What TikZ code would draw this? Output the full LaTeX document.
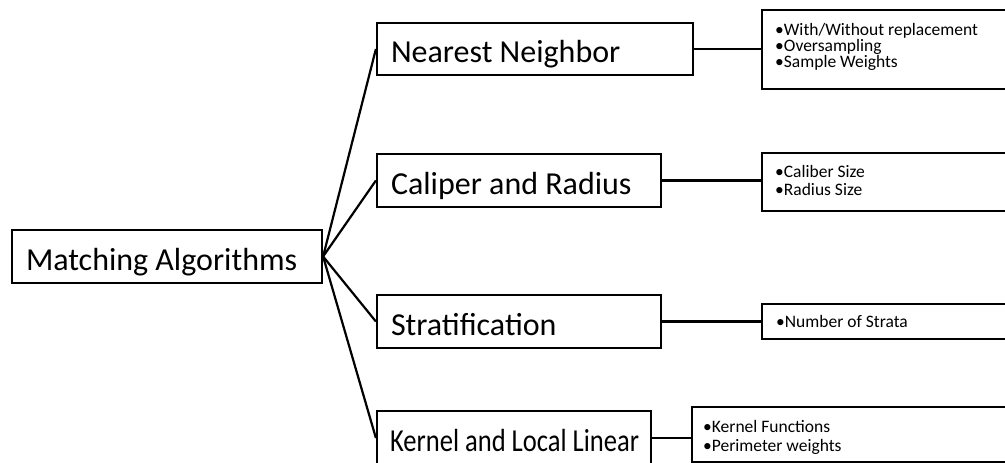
\documentclass[tikz,border=0pt]{standalone}
\usepackage{fontspec}
\usepackage{graphicx}
\setmainfont{Carlito}
\begin{document}
\begin{tikzpicture}[x=1pt,y=-1pt,
  bigbox/.style={draw, line width=2.2pt, inner xsep=14pt, inner ysep=0pt,
    font=\fontsize{32}{38}\selectfont, text height=27pt, text depth=0pt},
  smallbox/.style={draw, line width=2.2pt, inner sep=0pt},
  smalltext/.style={anchor=base west, inner sep=0pt, font=\fontsize{17.5}{18}\selectfont},
  conn/.style={line width=2.2pt},
  hconn/.style={line width=2.6pt}]
\useasboundingbox (0,0) rectangle (1005,463);
\clip (0,0) rectangle (1005,463);
\fill[white] (0,0) rectangle (1005,463);

\node[bigbox, minimum height=53pt] (root) at (167,256.5) {\makebox[282pt][l]{Matching Algorithms}};
\node[bigbox, minimum height=52pt] (nn) at (535,49) {\makebox[288pt][l]{Nearest Neighbor}};
\node[bigbox, minimum height=53pt] (cal) at (519,180.5) {\makebox[256pt][l]{Caliper and Radius}};
\node[bigbox, minimum height=53pt] (str) at (519,321.5) {\makebox[256pt][l]{Stratification}};
\node[bigbox, minimum height=54pt, inner xsep=13pt] (ker) at (514,438) {\makebox[248pt][l]{\scalebox{0.83}[1]{Kernel and Local Linear}}};

\node[smallbox, minimum width=253pt, minimum height=79pt] (r1) at (888.5,49.5) {};
\node[smallbox, minimum width=253pt, minimum height=58pt] (r2) at (888.5,182) {};
\node[smallbox, minimum width=253pt, minimum height=35pt] (r3) at (888.5,321.5) {};
\node[smallbox, minimum width=323pt, minimum height=55pt] (r4) at (853.5,434.5) {};

\node[smalltext] (r1a) at (775,35) {•With/Without replacement};
\node[smalltext] (r1b) at (775,51) {•Oversampling};
\node[smalltext] (r1c) at (775,67) {•Sample Weights};
\node[smalltext] (r2a) at (775,177) {•Caliber Size};
\node[smalltext] (r2b) at (775,195) {•Radius Size};
\node[smalltext] (r3a) at (776,327) {•Number of Strata};
\node[smalltext] (r4a) at (703,432) {•Kernel Functions};
\node[smalltext] (r4b) at (703,451) {•Perimeter weights};

\draw[conn] (root.east) -- (nn.west);
\draw[conn] (root.east) -- (cal.west);
\draw[conn] (root.east) -- (str.west);
\draw[conn] (root.east) -- (ker.west);

\draw[hconn] (nn.east) -- (r1.west |- nn.east);
\draw[hconn] (cal.east) -- (r2.west |- cal.east);
\draw[hconn] (str.east) -- (r3.west |- str.east);
\draw[hconn] (ker.east) -- (r4.west |- ker.east);
\end{tikzpicture}
\end{document}
